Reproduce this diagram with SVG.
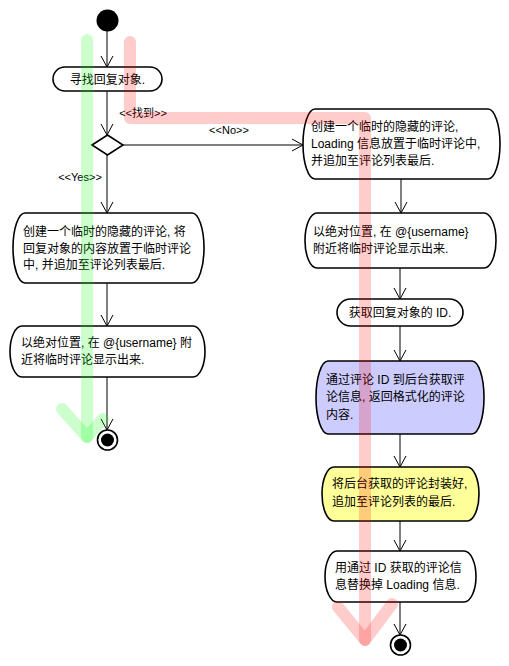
<svg xmlns="http://www.w3.org/2000/svg" width="509" height="666" viewBox="0 0 509 666">
<style>
.n{fill:#fff;stroke:#000;stroke-width:1.6}
.t{font-family:"Liberation Sans","Noto Sans CJK SC",sans-serif;font-size:12px;fill:#000}
.l{font-family:"Liberation Sans","Noto Sans CJK SC",sans-serif;font-size:11px;fill:#000}
.c{stroke:#000;stroke-width:1;fill:none}
.hg{stroke:rgba(0,255,0,0.2);stroke-width:12;fill:none;stroke-linecap:round;stroke-linejoin:round}
.hr{stroke:rgba(255,0,0,0.2);stroke-width:12;fill:none;stroke-linecap:round;stroke-linejoin:round}
</style>
<defs>
<marker id="a" markerUnits="userSpaceOnUse" markerWidth="12" markerHeight="14" refX="11" refY="7" orient="auto" viewBox="0 0 12 14">
<path d="M0,1 L11,7 L0,13" fill="none" stroke="#000" stroke-width="1"/>
</marker>
</defs>
<rect width="509" height="666" fill="#fff"/>
<g id="connectors">
<path class="c" d="M107,31 V67" marker-end="url(#a)"/>
<path class="c" d="M107,91 V135" marker-end="url(#a)"/>
<path class="c" d="M123,145 H303" marker-end="url(#a)"/>
<path class="c" d="M107,155 V213" marker-end="url(#a)"/>
<path class="c" d="M107,283 V326" marker-end="url(#a)"/>
<path class="c" d="M107,377 V430" marker-end="url(#a)"/>
<path class="c" d="M401,179 V213" marker-end="url(#a)"/>
<path class="c" d="M400,268 V299" marker-end="url(#a)"/>
<path class="c" d="M400,326 V361" marker-end="url(#a)"/>
<path class="c" d="M400,434 V467" marker-end="url(#a)"/>
<path class="c" d="M400,521 V551" marker-end="url(#a)"/>
<path class="c" d="M400,602 V635" marker-end="url(#a)"/>
<text class="l" x="143" y="117" text-anchor="middle">&lt;&lt;找到&gt;&gt;</text>
<text class="l" x="229" y="134" text-anchor="middle">&lt;&lt;No&gt;&gt;</text>
<text class="l" x="80" y="181" text-anchor="middle">&lt;&lt;Yes&gt;&gt;</text>
</g>
<g id="start"><circle cx="107.5" cy="20.5" r="11" fill="#000"/></g>
<g id="find">
<rect class="n" x="53" y="67" width="109" height="24" rx="12" ry="12"/>
<text class="t" x="107.5" y="84" text-anchor="middle">寻找回复对象.</text>
</g>
<g id="decision"><path class="n" d="M92,145 L107.5,135 L123,145 L107.5,155 Z"/></g>
<g id="createTempNotFound">
<rect class="n" x="303" y="109" width="197" height="70" rx="12" ry="35"/>
<text class="t" x="311" y="131">创建一个临时的隐藏的评论,</text>
<text class="t" x="311" y="148">Loading 信息放置于临时评论中,</text>
<text class="t" x="311" y="165">并追加至评论列表最后.</text>
</g>
<g id="showTempRight">
<rect class="n" x="305" y="213" width="191" height="55" rx="12" ry="27.5"/>
<text class="t" x="313" y="236">以绝对位置, 在 @{username}</text>
<text class="t" x="313" y="253">附近将临时评论显示出来.</text>
</g>
<g id="getId">
<rect class="n" x="337" y="299" width="126" height="27" rx="13.5" ry="13.5"/>
<text class="t" x="400" y="317" text-anchor="middle">获取回复对象的 ID.</text>
</g>
<g id="fetch">
<rect class="n" x="316" y="361" width="168" height="73" rx="12" ry="36.5" style="fill:#ccccff"/>
<text class="t" x="326" y="384">通过评论 ID 到后台获取评</text>
<text class="t" x="326" y="401">论信息, 返回格式化的评论</text>
<text class="t" x="326" y="419">内容.</text>
</g>
<g id="wrap">
<rect class="n" x="322" y="467" width="157" height="54" rx="12" ry="27" style="fill:#ffff99"/>
<text class="t" x="332" y="488">将后台获取的评论封装好,</text>
<text class="t" x="332" y="506">追加至评论列表的最后.</text>
</g>
<g id="replace">
<rect class="n" x="325" y="551" width="151" height="51" rx="12" ry="25.5"/>
<text class="t" x="335" y="572">用通过 ID 获取的评论信</text>
<text class="t" x="335" y="589">息替换掉 Loading 信息.</text>
</g>
<g id="createTempFound">
<rect class="n" x="13" y="213" width="191" height="70" rx="12" ry="35"/>
<text class="t" x="23" y="236">创建一个临时的隐藏的评论, 将</text>
<text class="t" x="23" y="252.5">回复对象的内容放置于临时评论</text>
<text class="t" x="23" y="269">中, 并追加至评论列表最后.</text>
</g>
<g id="showTempLeft">
<rect class="n" x="10" y="326" width="195" height="51" rx="12" ry="25.5"/>
<text class="t" x="21" y="347">以绝对位置, 在 @{username} 附</text>
<text class="t" x="21" y="364">近将临时评论显示出来.</text>
</g>
<g id="endLeft">
<circle cx="107.5" cy="440" r="10" fill="#fff" stroke="#000" stroke-width="1.6"/>
<circle cx="107.5" cy="440" r="6.5" fill="#000"/>
</g>
<g id="endRight">
<circle cx="400.5" cy="645" r="10" fill="#fff" stroke="#000" stroke-width="1.6"/>
<circle cx="400.5" cy="645" r="6.5" fill="#000"/>
</g>
<g id="highlights">
<path class="hg" d="M87,40 V437"/>
<path class="hg" d="M62,409 L87,437 L103,419"/>
<path class="hr" d="M130,42 V118 H365 V640"/>
<path class="hr" d="M338,607 L365,640 L392,604"/>
</g>
</svg>
